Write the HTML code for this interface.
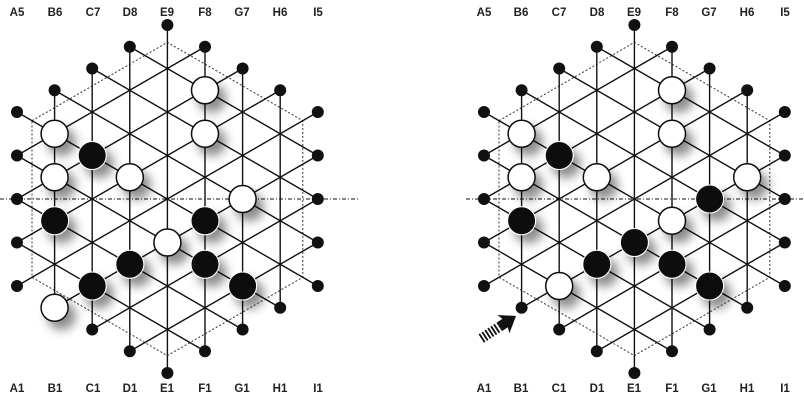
<!DOCTYPE html>
<html><head><meta charset="utf-8"><style>
html,body{margin:0;padding:0;background:#fff;width:804px;height:401px;overflow:hidden}
svg{display:block}
text{font-family:"Liberation Sans",sans-serif;font-weight:bold;font-size:11.5px;fill:#222;text-anchor:middle}
</style></head><body>
<svg width="804" height="401" viewBox="0 0 804 401" xmlns="http://www.w3.org/2000/svg">
<defs>
<filter id="sh" x="-60%" y="-60%" width="250%" height="250%"><feDropShadow dx="7" dy="8" stdDeviation="5" flood-color="#000" flood-opacity="0.45"/></filter>
<g id="board">
<polygon points="-135.4,-78.3 0,-156.6 135.4,-78.3 135.4,78.3 0,156.6 -135.4,78.3" fill="none" stroke="#333" stroke-width="1" stroke-dasharray="2,2"/>
<g stroke="#111" stroke-width="1.4" fill="none">
<line x1="-112.8" y1="-108.75" x2="-112.8" y2="108.75"/>
<line x1="-75.2" y1="-130.5" x2="-75.2" y2="130.5"/>
<line x1="-37.6" y1="-152.25" x2="-37.6" y2="152.25"/>
<line x1="0" y1="-174" x2="0" y2="174"/>
<line x1="37.6" y1="-152.25" x2="37.6" y2="152.25"/>
<line x1="75.2" y1="-130.5" x2="75.2" y2="130.5"/>
<line x1="112.8" y1="-108.75" x2="112.8" y2="108.75"/>
<line x1="-150.4" y1="-87" x2="150.4" y2="87"/>
<line x1="-150.4" y1="-43.5" x2="112.8" y2="108.75"/>
<line x1="-150.4" y1="0" x2="75.2" y2="130.5"/>
<line x1="-150.4" y1="43.5" x2="37.6" y2="152.25"/>
<line x1="-112.8" y1="-108.75" x2="150.4" y2="43.5"/>
<line x1="-75.2" y1="-130.5" x2="150.4" y2="0"/>
<line x1="-37.6" y1="-152.25" x2="150.4" y2="-43.5"/>
<line x1="-150.4" y1="87" x2="150.4" y2="-87"/>
<line x1="-150.4" y1="43.5" x2="112.8" y2="-108.75"/>
<line x1="-150.4" y1="0" x2="75.2" y2="-130.5"/>
<line x1="-150.4" y1="-43.5" x2="37.6" y2="-152.25"/>
<line x1="-112.8" y1="108.75" x2="150.4" y2="-43.5"/>
<line x1="-75.2" y1="130.5" x2="150.4" y2="0"/>
<line x1="-37.6" y1="152.25" x2="150.4" y2="43.5"/>
</g>
<g fill="#111">
<circle cx="-150.4" cy="-87" r="6"/><circle cx="-150.4" cy="-43.5" r="6"/><circle cx="-150.4" cy="0" r="6"/><circle cx="-150.4" cy="43.5" r="6"/><circle cx="-150.4" cy="87" r="6"/>
<circle cx="150.4" cy="-87" r="6"/><circle cx="150.4" cy="-43.5" r="6"/><circle cx="150.4" cy="0" r="6"/><circle cx="150.4" cy="43.5" r="6"/><circle cx="150.4" cy="87" r="6"/>
<circle cx="-112.8" cy="-108.75" r="6"/><circle cx="-112.8" cy="108.75" r="6"/><circle cx="112.8" cy="-108.75" r="6"/><circle cx="112.8" cy="108.75" r="6"/>
<circle cx="-75.2" cy="-130.5" r="6"/><circle cx="-75.2" cy="130.5" r="6"/><circle cx="75.2" cy="-130.5" r="6"/><circle cx="75.2" cy="130.5" r="6"/>
<circle cx="-37.6" cy="-152.25" r="6"/><circle cx="-37.6" cy="152.25" r="6"/><circle cx="37.6" cy="-152.25" r="6"/><circle cx="37.6" cy="152.25" r="6"/>
<circle cx="0" cy="-174" r="6"/><circle cx="0" cy="174" r="6"/>
</g>
</g>
</defs>

<line x1="0" y1="199" x2="360" y2="199" stroke="#111" stroke-width="1" stroke-dasharray="4,2,1,2"/>
<line x1="466" y1="199" x2="804" y2="199" stroke="#111" stroke-width="1" stroke-dasharray="4,2,1,2"/>

<g transform="translate(167.4,199)">
<use href="#board"/>
<g filter="url(#sh)">
<g fill="#fff" stroke="#111" stroke-width="1.5">
<circle cx="37.6" cy="-108.75" r="13.5"/><circle cx="-112.8" cy="-65.25" r="13.5"/><circle cx="37.6" cy="-65.25" r="13.5"/><circle cx="-112.8" cy="-21.75" r="13.5"/><circle cx="-37.6" cy="-21.75" r="13.5"/><circle cx="75.2" cy="0" r="13.5"/><circle cx="0" cy="43.5" r="13.5"/><circle cx="-112.8" cy="108.75" r="13.5"/>
</g>
<g fill="#111" stroke="#fff" stroke-width="1">
<circle cx="-75.2" cy="-43.5" r="14"/><circle cx="-112.8" cy="21.75" r="14"/><circle cx="37.6" cy="21.75" r="14"/><circle cx="-37.6" cy="65.25" r="14"/><circle cx="37.6" cy="65.25" r="14"/><circle cx="-75.2" cy="87" r="14"/><circle cx="75.2" cy="87" r="14"/>
</g>
</g>
</g>

<g transform="translate(634.4,199)">
<use href="#board"/>
<g filter="url(#sh)">
<g fill="#fff" stroke="#111" stroke-width="1.5">
<circle cx="37.6" cy="-108.75" r="13.5"/><circle cx="-112.8" cy="-65.25" r="13.5"/><circle cx="37.6" cy="-65.25" r="13.5"/><circle cx="-112.8" cy="-21.75" r="13.5"/><circle cx="-37.6" cy="-21.75" r="13.5"/><circle cx="112.8" cy="-21.75" r="13.5"/><circle cx="37.6" cy="21.75" r="13.5"/><circle cx="-75.2" cy="87" r="13.5"/>
</g>
<g fill="#111" stroke="#fff" stroke-width="1">
<circle cx="-75.2" cy="-43.5" r="14"/><circle cx="75.2" cy="0" r="14"/><circle cx="-112.8" cy="21.75" r="14"/><circle cx="0" cy="43.5" r="14"/><circle cx="-37.6" cy="65.25" r="14"/><circle cx="37.6" cy="65.25" r="14"/><circle cx="75.2" cy="87" r="14"/>
</g>
</g>
</g>

<!-- arrow -->
<g transform="translate(516,316) rotate(-33)" fill="#111">
<polygon points="0,0 -15,-11 -13,-5 -20,-5 -20,5 -13,5 -15,11"/>
<g stroke="#111" stroke-width="1.8">
<line x1="-23" y1="-5" x2="-23" y2="5"/>
<line x1="-26.5" y1="-5" x2="-26.5" y2="5"/>
<line x1="-30" y1="-5" x2="-30" y2="5"/>
<line x1="-33.5" y1="-5" x2="-33.5" y2="5"/>
<line x1="-37" y1="-5" x2="-37" y2="5"/>
<line x1="-40.5" y1="-5" x2="-40.5" y2="5"/>
</g>
</g>

<g>
<text x="17" y="16">A5</text><text x="55" y="16">B6</text><text x="93" y="16">C7</text><text x="130" y="16">D8</text><text x="167" y="16">E9</text><text x="205" y="16">F8</text><text x="242" y="16">G7</text><text x="280" y="16">H6</text><text x="318" y="16">I5</text>
<text x="17" y="392">A1</text><text x="55" y="392">B1</text><text x="93" y="392">C1</text><text x="130" y="392">D1</text><text x="167" y="392">E1</text><text x="205" y="392">F1</text><text x="242" y="392">G1</text><text x="280" y="392">H1</text><text x="318" y="392">I1</text>
<text x="484" y="16">A5</text><text x="521" y="16">B6</text><text x="559" y="16">C7</text><text x="597" y="16">D8</text><text x="634" y="16">E9</text><text x="672" y="16">F8</text><text x="709" y="16">G7</text><text x="747" y="16">H6</text><text x="785" y="16">I5</text>
<text x="484" y="392">A1</text><text x="521" y="392">B1</text><text x="559" y="392">C1</text><text x="597" y="392">D1</text><text x="634" y="392">E1</text><text x="672" y="392">F1</text><text x="709" y="392">G1</text><text x="747" y="392">H1</text><text x="785" y="392">I1</text>
</g>
</svg>
</body></html>
